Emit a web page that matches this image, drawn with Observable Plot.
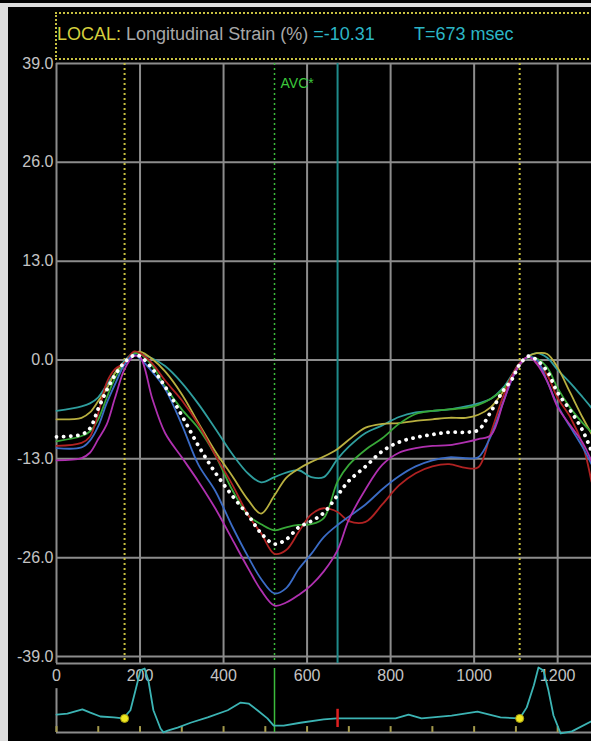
<!DOCTYPE html>
<html><head><meta charset="utf-8">
<script src="https://cdn.jsdelivr.net/npm/d3@7"></script>
<script src="https://cdn.jsdelivr.net/npm/@observablehq/plot@0.6"></script>
<style>
html,body{margin:0;padding:0;background:#000;}
#wrap{position:relative;width:591px;height:741px;overflow:hidden;background:#000;font-family:"Liberation Sans",Arial,sans-serif;}
#topbar{position:absolute;left:0;top:3px;width:591px;height:4px;background:#dcdcdc;}
#leftbar{position:absolute;left:0;top:3px;width:8px;height:738px;background:#dcdcdc;}
#hbox{position:absolute;left:55px;top:12px;width:540px;height:44px;border-top:2px dotted #c8c040;border-left:2px dotted #c8c040;border-bottom:2px dotted #c8c040;}
.ht{position:absolute;top:25px;font-size:18px;line-height:18px;white-space:nowrap;}
#main{position:absolute;left:0;top:0;}
#ecg{position:absolute;left:0;top:660px;}
</style></head>
<body>
<div id="wrap">
  <div id="topbar"></div>
  <div id="leftbar"></div>
  <div id="hbox"></div>
  <div class="ht" style="left:57px"><span style="color:#d6cf3e">LOCAL:</span> <span style="color:#a8a8a8">Longitudinal Strain (%)</span> <span style="color:#2cb6c6">=-10.31</span></div>
  <div class="ht" style="left:414px;color:#2cb6c6">T=673 msec</div>
  <div id="main"></div>
  <div id="ecg"></div>
</div>
<script>
// ---- strain curves (ms, %) ----
const times = [0, 60, 80, 100, 120, 140, 163, 185, 200, 230, 260, 300, 340, 380, 420, 460, 490, 522, 550, 580, 610, 640, 673, 700, 740, 780, 820, 860, 900, 940, 980, 1010, 1040, 1070, 1090, 1109, 1130, 1150, 1175, 1200, 1230, 1260, 1281];
const teal = [-6.7, -6.1, -5.7, -4.9, -3.3, -1.7, -0.1, 0.9, 0.8, 0.2, -0.8, -3.0, -5.8, -9.0, -12.3, -15.0, -16.1, -15.4, -14.8, -14.5, -15.4, -15.4, -13.0, -11.4, -9.6, -8.6, -7.5, -6.9, -6.7, -6.5, -6.1, -5.7, -5.1, -3.6, -2.0, -0.4, 0.5, 0.9, 0.3, -1.3, -3.0, -4.9, -6.3];
const yellow = [-7.8, -7.6, -6.9, -5.4, -3.8, -1.7, -0.3, 0.9, 1.1, 0.1, -1.5, -4.5, -8.3, -12.0, -15.2, -18.5, -20.2, -17.8, -15.5, -14.3, -13.4, -12.7, -11.7, -10.5, -8.9, -8.4, -8.3, -8.0, -7.8, -7.6, -7.6, -7.2, -6.2, -4.1, -2.4, -0.7, 0.5, 0.9, 0.8, -1.0, -4.3, -7.6, -9.7];
const green = [-10.7, -10.0, -9.4, -7.8, -5.0, -2.4, -0.4, 0.9, 0.8, -0.8, -3.5, -6.5, -9.0, -12.5, -17.0, -20.5, -21.6, -22.4, -22.0, -21.7, -21.6, -20.8, -16.0, -13.8, -11.8, -10.3, -8.4, -7.1, -6.7, -6.5, -6.3, -5.9, -5.1, -3.8, -2.2, -0.5, 0.3, 0.2, -1.0, -3.7, -6.3, -8.3, -9.5];
const red = [-11.3, -10.9, -10.1, -7.0, -3.0, -1.2, -0.4, 1.1, 0.9, -0.5, -2.7, -5.3, -8.5, -12.5, -16.3, -20.5, -22.8, -25.5, -25.0, -22.6, -20.3, -19.5, -20.0, -21.2, -21.3, -19.0, -16.5, -14.9, -14.0, -13.7, -14.2, -14.1, -9.6, -4.7, -2.1, -0.4, 0.4, -0.3, -2.0, -5.0, -7.5, -11.2, -16.0];
const blue = [-11.6, -11.5, -10.6, -8.7, -5.7, -3.2, -0.6, 0.7, 0.2, -1.6, -3.8, -8.5, -13.8, -17.2, -21.8, -26.0, -28.8, -30.7, -30.0, -27.5, -25.5, -23.3, -21.7, -20.6, -19.0, -17.0, -15.3, -14.0, -13.2, -12.8, -12.9, -12.8, -10.0, -5.5, -2.6, -0.6, 0.4, 0.0, -2.8, -6.0, -8.8, -11.5, -13.7];
const magenta = [-13.2, -12.9, -12.2, -10.4, -8.5, -5.0, -1.2, 0.5, 0.4, -5.2, -9.6, -12.8, -16.0, -19.5, -23.5, -27.5, -30.3, -32.3, -31.9, -30.9, -29.6, -27.8, -25.0, -21.0, -17.0, -13.8, -12.2, -11.6, -11.3, -11.2, -10.8, -10.4, -9.9, -5.5, -2.5, -0.6, 0.4, -0.5, -2.8, -6.2, -8.6, -10.9, -13.3];
const average = [-10.1, -9.8, -9.0, -6.4, -4.0, -2.0, -0.3, 0.6, 0.5, -1.2, -3.5, -7.3, -11.3, -14.8, -17.8, -20.5, -22.8, -24.2, -23.6, -22.0, -21.2, -20.1, -17.8, -15.9, -14.0, -12.0, -10.8, -10.2, -9.8, -9.5, -9.5, -9.2, -6.8, -4.0, -2.6, -0.6, 0.5, 0.0, -1.5, -4.3, -6.6, -9.3, -12.0];

const seriesNames = ["teal", "yellow", "green", "red", "blue", "magenta"];
const seriesValues = [teal, yellow, green, red, blue, magenta];
const seriesColors = ["#2f9e9e", "#b9b040", "#38a838", "#b02222", "#3b6cc6", "#b030b0"];

// ---- axes / markers ----
const yTicks = [39, 26, 13, 0, -13, -26, -39];
const xTicks = [0, 200, 400, 600, 800, 1000, 1200];
const xGrid = [0, 200, 400, 600, 800, 1000, 1200];
const qrsMarks = [163, 1109];
const avcTime = 522;
const avcLabel = "AVC*";
const cursorTime = 673;

// ---- ECG trace (ms, arbitrary mV) ----
const ecgT = [0, 26, 62, 81, 105, 137, 160, 177, 189, 201, 211, 220, 232, 249, 256, 268, 290, 321, 362, 410, 441, 460, 481, 505, 520, 544, 584, 640, 671, 721, 812, 843, 874, 946, 1008, 1063, 1109, 1126, 1143, 1154, 1166, 1178, 1190, 1207, 1234, 1281];
const ecgV = [0.04, 0.06, 0.15, 0.08, 0.0, -0.02, -0.04, 0.13, 0.54, 0.96, 1.0, 0.75, 0.13, -0.25, -0.33, -0.29, -0.23, -0.13, -0.02, 0.13, 0.29, 0.27, 0.13, -0.04, -0.19, -0.19, -0.13, -0.06, -0.04, -0.04, -0.04, 0.04, -0.04, 0.02, 0.10, -0.02, -0.04, 0.19, 0.65, 1.02, 0.96, 0.54, 0.02, -0.35, -0.31, -0.10];
const ecgTicks = [0, 100, 200, 300, 400, 500, 600, 700, 800, 900, 1000, 1100, 1200];
const ecgBase = -0.333, ecgTickTop = -0.21, ecgAxisTop = 0.58, ecgTop = 1.0;
const ecgDotLevel = -0.04;
const cursorMarkLow = -0.23, cursorMarkHigh = 0.15;

const grey = "#8c8c8c";
const font = "Liberation Sans, Arial, sans-serif";

const curveMarks = seriesNames.map((n, k) =>
  Plot.line(times.map((t, i) => ({t, v: seriesValues[k][i]})), {x: "t", y: "v", stroke: seriesColors[k], strokeWidth: 1.8, curve: "catmull-rom"})
);
const avgRows = times.map((t, i) => ({t, v: average[i]}));

const main = Plot.plot({
  width: 591, height: 690,
  marginLeft: 56, marginRight: 0, marginTop: 63, marginBottom: 34,
  x: {domain: [0, 1281], label: null},
  y: {domain: [-39, 39], label: null},
  style: {background: "transparent", color: "#c4c4c4", fontFamily: font, fontSize: "16px"},
  marks: [
    Plot.ruleY(yTicks, {stroke: grey, strokeWidth: 2}),
    Plot.ruleY([-39], {stroke: grey, strokeWidth: 2, dy: 7}),
    Plot.ruleX(xGrid, {stroke: grey, strokeWidth: 2, insetBottom: -7}),
    Plot.axisY(yTicks, {tickSize: 0, tickPadding: 3, tickFormat: d => d.toFixed(1), fontSize: 16, fill: "#c4c4c4", label: null}),
    Plot.axisX(xTicks, {tickSize: 0, tickPadding: 13, tickFormat: d => String(d), fontSize: 16, fill: "#c4c4c4", label: null}),
    Plot.ruleX(qrsMarks, {stroke: "#c8c040", strokeWidth: 2, strokeDasharray: "2,3", insetTop: -5, insetBottom: -7}),
    Plot.ruleX([avcTime], {stroke: "#3cbc3c", strokeWidth: 1.5, strokeDasharray: "2,3", insetBottom: -7}),
    Plot.ruleX([cursorTime], {stroke: "#1f8a8a", strokeWidth: 2, insetBottom: -7}),
    Plot.text([avcLabel], {x: avcTime, y: 39, text: d => d, dx: 6, dy: 20, textAnchor: "start", fill: "#3cc83c", fontSize: 14}),
    ...curveMarks,
    Plot.line(avgRows, {x: "t", y: "v", stroke: "#ffffff", strokeWidth: 3.8, strokeDasharray: "0.1,7", strokeLinecap: "round", curve: "catmull-rom"})
  ]
});
document.getElementById("main").append(main);

const ecgRows = ecgT.map((t, i) => ({t, v: ecgV[i]}));
const ecg = Plot.plot({
  width: 591, height: 81,
  marginLeft: 56, marginRight: 0, marginTop: 8, marginBottom: 1,
  x: {domain: [0, 1281], axis: null},
  y: {domain: [-0.5, 1.0], axis: null},
  style: {background: "transparent"},
  marks: [
    Plot.ruleY([ecgBase], {stroke: grey, strokeWidth: 2}),
    Plot.ruleX([0], {y1: ecgBase, y2: ecgAxisTop, stroke: grey, strokeWidth: 2}),
    Plot.ruleX(ecgTicks, {y1: ecgBase, y2: ecgTickTop, stroke: "#a49a4c", strokeWidth: 2}),
    Plot.ruleX([avcTime], {y1: ecgBase, y2: ecgTop, stroke: "#3cbc3c", strokeWidth: 1.5}),
    Plot.line(ecgRows, {x: "t", y: "v", stroke: "#3cb4b4", strokeWidth: 1.8}),
    Plot.ruleX([cursorTime], {y1: cursorMarkLow, y2: cursorMarkHigh, stroke: "#e02020", strokeWidth: 2.5}),
    Plot.dot(qrsMarks, {x: d => d, y: () => ecgDotLevel, r: 4, fill: "#f0e820", stroke: "#a8a010", strokeWidth: 1})
  ]
});
document.getElementById("ecg").append(ecg);
</script>
</body></html>
